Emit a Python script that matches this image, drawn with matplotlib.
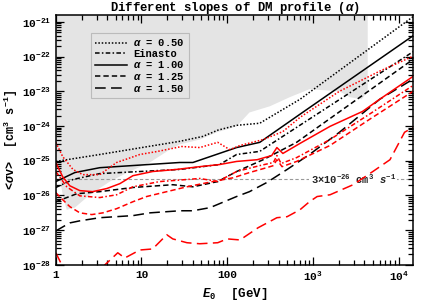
import numpy as np
import matplotlib
matplotlib.use('Agg')
import matplotlib.pyplot as plt
from matplotlib.ticker import LogLocator

plt.rcParams['font.family'] = ['Liberation Mono', 'DejaVu Sans']
plt.rcParams['font.weight'] = 'bold'
plt.rcParams['mathtext.fontset'] = 'custom'
plt.rcParams['mathtext.rm'] = 'Liberation Mono:bold'
plt.rcParams['mathtext.it'] = 'Liberation Mono:bold:italic'
plt.rcParams['mathtext.bf'] = 'Liberation Mono:bold'

# log10(E / GeV) and log10(<sigma v> / cm^3 s^-1)
# black: alpha = 0.50
a05_logE = [0, 0.513, 1.447, 1.715, 1.89, 2.11, 2.38, 2.85, 4.17]
a05_logsv = [-25.02, -24.82, -24.44, -24.30, -24.12, -23.98, -23.92, -23.23, -20.85]
# black: Einasto
ein_logE = [0, 0.2, 0.513, 1.447, 1.91, 2.11, 2.38, 2.81, 4.17]
ein_logsv = [-25.77, -25.54, -25.37, -25.25, -25.11, -24.82, -24.73, -24.04, -21.86]
# black: alpha = 1.00
a10_logE = [0, 0.222, 0.513, 1.447, 1.6, 2.11, 2.38, 2.85, 4.17]
a10_logsv = [-25.60, -25.34, -25.20, -25.05, -25.05, -24.62, -24.47, -23.66, -21.40]
# black: alpha = 1.25
a125_logE = [0, 0.245, 0.513, 0.9, 1.365, 1.6, 1.89, 2.11, 2.42, 2.81, 4.17]
a125_logsv = [-26.18, -25.95, -25.89, -25.77, -25.69, -25.75, -25.60, -25.31, -24.97, -24.47, -22.08]
# black: alpha = 1.50
a15_logE = [0, 0.163, 0.28, 0.513, 0.9, 1.1, 1.45, 1.6, 1.8, 2.11, 2.26, 2.46, 2.70, 2.96, 3.31, 3.78, 4.17]
a15_logsv = [-27.02, -26.79, -26.73, -26.64, -26.58, -26.50, -26.44, -26.44, -26.35, -26.03, -25.89,
             -25.63, -25.25, -24.82, -24.18, -23.23, -22.65]

# red curves
r05_logE = [0, 0.08, 0.2, 0.315, 0.513, 0.71, 0.805, 0.98, 1.19, 1.47, 1.68, 1.89, 2.03, 2.15, 2.42,
            2.65, 2.85, 3.31, 3.78, 4.17]
r05_logsv = [-24.47, -24.88, -25.25, -25.40, -25.40, -25.05, -24.97, -24.82, -24.73, -24.59, -24.62,
             -24.47, -24.68, -24.56, -24.39, -24.16, -23.75, -23.00, -22.42, -21.99]
rein_logE = [0, 0.128, 0.28, 0.513, 0.71, 0.9, 1.21, 1.53, 1.68, 1.89, 2.11, 2.38, 2.54, 2.58, 2.63,
             2.81, 3.2, 3.66, 4.17]
rein_logsv = [-25.31, -25.75, -26.01, -26.06, -25.98, -25.75, -25.60, -25.54, -25.51, -25.60, -25.31,
              -25.14, -25.05, -24.85, -25.08, -24.91, -24.39, -23.66, -22.83]
r10_logE = [0, 0.08, 0.163, 0.28, 0.43, 0.595, 0.747, 0.9, 1.13, 1.41, 1.68, 1.91, 2.11, 2.35, 2.52,
            2.58, 2.65, 2.85, 3.2, 3.58, 3.78, 4.17]
r10_logsv = [-25.05, -25.46, -25.72, -25.86, -25.89, -25.80, -25.66, -25.43, -25.31, -25.25, -25.17,
             -25.11, -25.02, -24.97, -24.85, -24.62, -24.79, -24.50, -24.01, -23.58, -23.23, -22.57]
r125_logE = [0, 0.08, 0.163, 0.28, 0.42, 0.55, 0.71, 0.9, 1.06, 1.295, 1.53, 1.83, 2.07, 2.26, 2.46,
             2.54, 2.58, 2.64, 2.81, 3.2, 3.66, 4.17]
r125_logsv = [-25.92, -26.12, -26.32, -26.50, -26.55, -26.50, -26.38, -26.18, -26.03, -25.89, -25.75,
              -25.60, -25.49, -25.34, -25.20, -25.14, -24.97, -25.17, -25.02, -24.56, -23.81, -23.00]
r15_logE = [0, 0.07, 0.163, 0.51, 0.572, 0.723, 0.805, 0.98, 1.13, 1.295, 1.365, 1.53, 1.68, 1.89, 2.0,
            2.15, 2.36, 2.58, 2.70, 2.85, 2.96, 3.05, 3.2, 3.47, 3.70, 3.90, 4.07, 4.17]
r15_logsv = [-27.65, -28.0, -28.3, -28.3, -28.0, -27.65, -27.80, -27.57, -27.54, -27.13, -27.25, -27.36,
             -27.39, -27.36, -27.25, -27.28, -26.93, -26.64, -26.61, -26.41, -26.18, -26.03, -25.98,
             -25.69, -25.31, -24.97, -24.18, -24.04]

# excluded region (light grey), outline
excl_logE = [0, 0, 0.047, 0.093, 0.128, 0.222, 0.397, 0.63, 0.863, 1.097, 1.33, 1.447, 1.68, 1.88,
             2.11, 2.26, 2.50, 2.73, 2.96, 3.31, 3.43, 3.57, 3.64, 3.64]
excl_logsv = [-20.0, -25.02, -25.54, -26.12, -26.41, -26.35, -25.98, -25.60, -25.31, -25.05, -24.68,
              -24.53, -24.39, -24.18, -24.01, -23.61, -23.43, -23.17, -22.94, -23.00, -23.17, -23.23,
              -23.00, -20.0]

thermal = 3e-26
y_major = [1e-28, 1e-27, 1e-26, 1e-25, 1e-24, 1e-23, 1e-22, 1e-21]
y_labels = ['10$^{-28}$', '10$^{-27}$', '10$^{-26}$', '10$^{-25}$', '10$^{-24}$', '10$^{-23}$',
            '10$^{-22}$', '10$^{-21}$']

fig = plt.figure(figsize=(4.36, 3.07), dpi=100)
ax = fig.add_axes([0.128, 0.137, 0.819, 0.815])
ax.set_xscale('log')
ax.set_yscale('log')

ax.fill(10**np.array(excl_logE), 10**np.array(excl_logsv), color='#e4e4e4', lw=0, zorder=0)
ax.axhline(thermal, color='#999999', lw=0.8, ls=(0, (3, 2)), zorder=1)
ax.text(2950, thermal, r'3$\times$10$^{-26}$ cm$^3$ $s^{-1}$', fontsize=7.5, ha='center', va='center',
        color='#222222', bbox=dict(facecolor='white', edgecolor='none', pad=1.0), zorder=2)

lw = 1.1
dot = (0, (1, 1.2))
dashdot = (0, (3, 1.5, 1, 1.5))
dash = (0, (3.5, 2))
ldash = (0, (7, 3.5))

def P(x):
    return 10**np.array(x)

ax.plot(P(a05_logE), P(a05_logsv), color='k', lw=lw, ls=dot, label=r'$\alpha$ = 0.50')
ax.plot(P(ein_logE), P(ein_logsv), color='k', lw=lw, ls=dashdot, label='Einasto')
ax.plot(P(a10_logE), P(a10_logsv), color='k', lw=lw, ls='-', label=r'$\alpha$ = 1.00')
ax.plot(P(a125_logE), P(a125_logsv), color='k', lw=lw, ls=dash, label=r'$\alpha$ = 1.25')
ax.plot(P(a15_logE), P(a15_logsv), color='k', lw=lw, ls=ldash, label=r'$\alpha$ = 1.50')

ax.plot(P(r05_logE), P(r05_logsv), color='red', lw=lw, ls=dot)
ax.plot(P(rein_logE), P(rein_logsv), color='red', lw=lw, ls=dashdot)
ax.plot(P(r10_logE), P(r10_logsv), color='red', lw=lw, ls='-')
ax.plot(P(r125_logE), P(r125_logsv), color='red', lw=lw, ls=dash)
ax.plot(P(r15_logE), P(r15_logsv), color='red', lw=lw, ls=ldash)

ax.set_xlim(1, 1.47e4)
ax.set_ylim(1e-28, 1.6e-21)
ax.set_xticks([1, 10, 100, 1000, 10000])
ax.set_xticklabels(['1', '10', '100', '10$^3$', '10$^4$'])
ax.set_yticks(y_major)
ax.set_yticklabels(y_labels)
ax.yaxis.set_minor_locator(LogLocator(base=10, subs=np.arange(2, 10), numticks=20))
ax.tick_params(which='both', direction='in', top=True, right=True, labelsize=8, width=0.9)
ax.tick_params(which='major', length=6)
ax.tick_params(which='minor', length=3.5, labelleft=False)
for s in ax.spines.values():
    s.set_linewidth(1.1)

ax.set_xlabel(r'$E_0$  [GeV]', fontsize=9, fontweight='bold', labelpad=2)
ax.set_ylabel(r'<$\sigma$v>  [cm$^3$ s$^{-1}$]', fontsize=8.5, fontweight='bold', labelpad=1)
fig.text(0.538, 0.973, r'Different slopes of DM profile ($\alpha$)', fontsize=8.8, fontweight='bold',
         ha='center', va='center')

leg = ax.legend(loc='upper left', bbox_to_anchor=(0.098, 0.928), borderaxespad=0, fontsize=7.5,
                handlelength=3.0, fancybox=False, framealpha=1, facecolor='#e4e4e4',
                edgecolor='#bbbbbb', labelspacing=0.05, borderpad=0.45, handletextpad=0.6)
leg.get_frame().set_linewidth(0.8)

fig.savefig('out.png', dpi=100)
